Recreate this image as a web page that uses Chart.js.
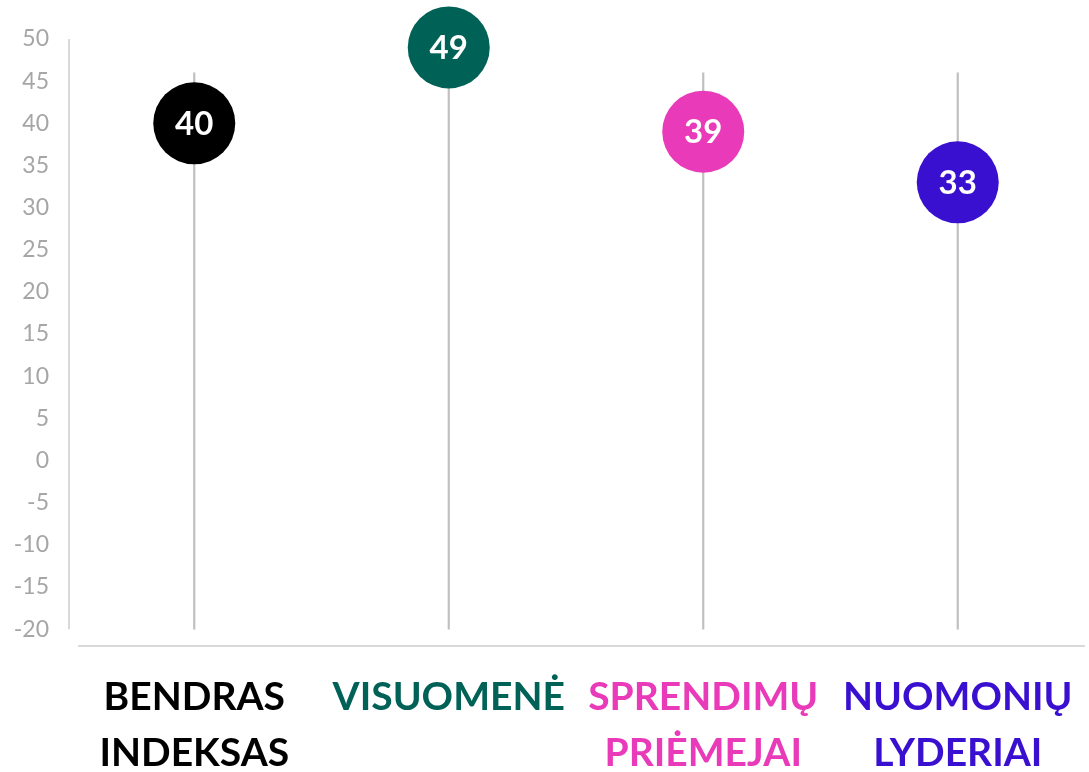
<!DOCTYPE html>
<html>
<head>
<meta charset="utf-8">
<script src="https://cdn.jsdelivr.net/npm/chart.js@4"></script>
<style>
  html, body { margin: 0; padding: 0; background: #fff; }
</style>
</head>
<body>
<canvas id="chart" width="1089" height="772"></canvas>
<script>
// chart data

const categories = [['BENDRAS', 'INDEKSAS'], 'VISUOMENĖ', ['SPRENDIMŲ', 'PRIĖMEJAI'], ['NUOMONIŲ', 'LYDERIAI']]
const scores = [40, 49, 39, 33]
const categoryColors = ['#000000', '#006157', '#e83ab9', '#3a10d0']
const stemBottom = [-20, -20, -20, -20]
const stemTop = [46, 46, 46, 46]
const yTicks = [-20, -15, -10, -5, 0, 5, 10, 15, 20, 25, 30, 35, 40, 45, 50]

// plugins

// light gray axis lines, drawn separately like in a spreadsheet chart
const axisLines = {
  id: 'axisLines',
  beforeDatasetsDraw(chart) {
    const { ctx, chartArea, scales } = chart
    const y = scales.y
    ctx.save()
    ctx.strokeStyle = '#d9d9d9'
    ctx.lineWidth = 2
    ctx.beginPath()
    ctx.moveTo(chartArea.left + 2, y.getPixelForValue(50))
    ctx.lineTo(chartArea.left + 2, y.getPixelForValue(-20))
    ctx.moveTo(chartArea.left + 11, chartArea.bottom)
    ctx.lineTo(chartArea.right, chartArea.bottom)
    ctx.stroke()
    ctx.restore()
  }
}

// white numbers inside the circles
const valueLabels = {
  id: 'valueLabels',
  afterDatasetsDraw(chart) {
    const meta = chart.getDatasetMeta(1)
    const ctx = chart.ctx
    ctx.save()
    ctx.font = 'bold 33px Lato'
    ctx.fillStyle = '#ffffff'
    ctx.textAlign = 'center'
    ctx.textBaseline = 'middle'
    meta.data.forEach((pt, i) => {
      ctx.fillText(String(scores[i]), pt.x, pt.y + 1)
    })
    ctx.restore()
  }
}

// define the chart

const chart = new Chart(document.getElementById('chart'), {
  type: 'bar',
  data: {
    labels: categories,
    datasets: [
      {
        // thin gray stems
        data: stemBottom.map((b, i) => [b, stemTop[i]]),
        backgroundColor: '#bfbfbf',
        barThickness: 1.5,
        order: 2
      },
      {
        type: 'line',
        data: scores,
        showLine: false,
        pointRadius: 41,
        pointHoverRadius: 41,
        pointBorderWidth: 0,
        pointBackgroundColor: categoryColors,
        pointBorderColor: categoryColors,
        clip: false,
        order: 1
      }
    ]
  },
  options: {
    responsive: false,
    animation: false,
    events: [],
    layout: {
      autoPadding: false,
      padding: { top: 39, right: 4, left: 0, bottom: 0 }
    },
    plugins: {
      legend: { display: false },
      tooltip: { enabled: false }
    },
    scales: {
      x: {
        grid: { display: false, drawTicks: false },
        border: { display: false },
        ticks: {
          autoSkip: false,
          maxRotation: 0,
          minRotation: 0,
          padding: 23,
          color: ctx => categoryColors[ctx.index],
          font: { family: 'Lato', size: 39, weight: 'bold', lineHeight: 1.45 }
        },
        afterFit: scale => {
          scale.height = 126
          // let the last label run off the edge instead of shrinking the plot
          scale.paddingLeft = 0
          scale.paddingRight = 0
        }
      },
      y: {
        min: -22,
        max: 50,
        grid: { display: false, drawTicks: false },
        border: { display: false },
        ticks: {
          padding: 18,
          color: '#a6a6a6',
          font: { family: 'Lato', size: 23 }
        },
        afterBuildTicks: scale => {
          scale.ticks = yTicks.map(v => ({ value: v }))
        },
        afterFit: scale => { scale.width = 67 }
      }
    }
  },
  plugins: [axisLines, valueLabels]
})
</script>
</body>
</html>
